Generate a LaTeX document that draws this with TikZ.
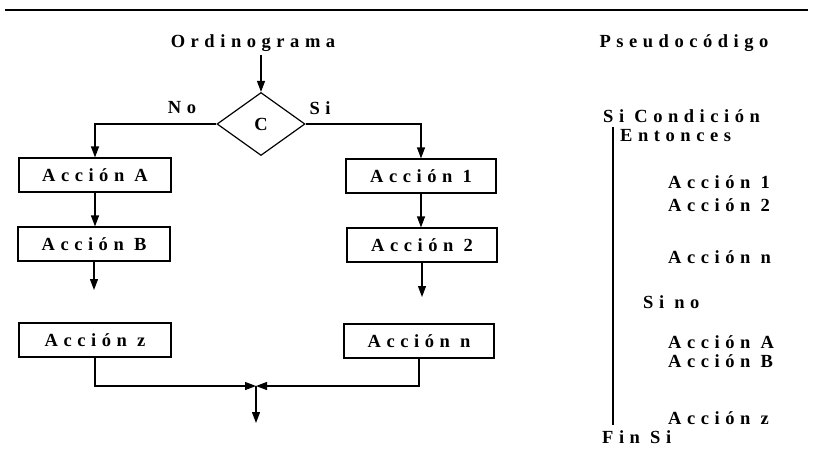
\documentclass[tikz,border=0pt]{standalone}
\usepackage{fontspec}
\setmainfont{Liberation Serif}
\newfontfamily\spaced[LetterSpace=30]{Liberation Serif}
\usetikzlibrary{shapes.geometric,arrows.meta}
\begin{document}
\begin{tikzpicture}[x=1pt,y=-1pt,
  every node/.style={font=\spaced\bfseries\fontsize{18.5}{21}\selectfont},
  actionbox/.style={draw,line width=1.2pt,minimum width=152pt,minimum height=34pt,inner sep=0pt},
  decision/.style={draw,diamond,line width=1.2pt,aspect=1.4,minimum width=88pt,minimum height=63pt,inner sep=0pt},
  flow/.style={line width=1.2pt,-{Triangle[width=8pt,length=11pt]}},
  link/.style={line width=1.2pt},
  code/.style={anchor=west,inner sep=0pt}]
\useasboundingbox (0,0) rectangle (813,456);
\fill[white] (0,0) rectangle (813,456);

% top rule
\draw[line width=1.8pt] (5,10) -- (808,10);

% flowchart
\node (title) at (253,43) {Ordinograma};
\node[decision] (c) at (261,124) {C};
\node (no) at (182,108) {No};
\node (si) at (320,108) {Si};

\node[actionbox] (aA) at (95,175) {Acción A};
\node[actionbox] (aB) at (94,244) {Acción B};
\node[actionbox] (az) at (95,340) {Acción z};
\node[actionbox,minimum width=150pt] (a1) at (421,176) {Acción 1};
\node[actionbox,minimum width=150pt] (a2) at (422,245) {Acción 2};
\node[actionbox,minimum width=150pt] (an) at (419,341) {Acción n};

\coordinate (bend) at (94,290);
\coordinate (nend) at (422,297);
\coordinate (join) at (256,386);
\coordinate (out) at (256,423);

\draw[flow] (c.north |- title.south) -- (c.north);
\draw[flow] (c.west) -| (aA.north);
\draw[flow] (c.east) -| (a1.north);
\draw[flow] (aA.south) -- (aA.south |- aB.north);
\draw[flow] (aB.south) -- (aB.south |- bend);
\draw[flow] (a1.south) -- (a1.south |- a2.north);
\draw[flow] (a2.south) -- (a2.south |- nend);
\draw[flow] (az.south) |- (join);
\draw[flow] (an.south) |- (join);
\draw[flow] (join) -- (out);

% pseudocode
\node (ptitle) at (684,43) {Pseudocódigo};
\node[code] (p1) at (603,116) {Si Condición};
\node[code] (p2) at (620,136) {Entonces};
\node[code] (p3) at (668,182) {Acción 1};
\node[code] (p4) at (668,205) {Acción 2};
\node[code] (p5) at (668,257) {Acción n};
\node[code] (p6) at (643,302) {Si no};
\node[code] (p7) at (668,342) {Acción A};
\node[code] (p8) at (668,361) {Acción B};
\node[code] (p9) at (668,418) {Acción z};
\node[code] (p10) at (602,437) {Fin Si};
\coordinate (bartop) at (613,127);
\coordinate (barbot) at (613,425);
\draw[link] (bartop) -- (barbot);
\end{tikzpicture}
\end{document}
